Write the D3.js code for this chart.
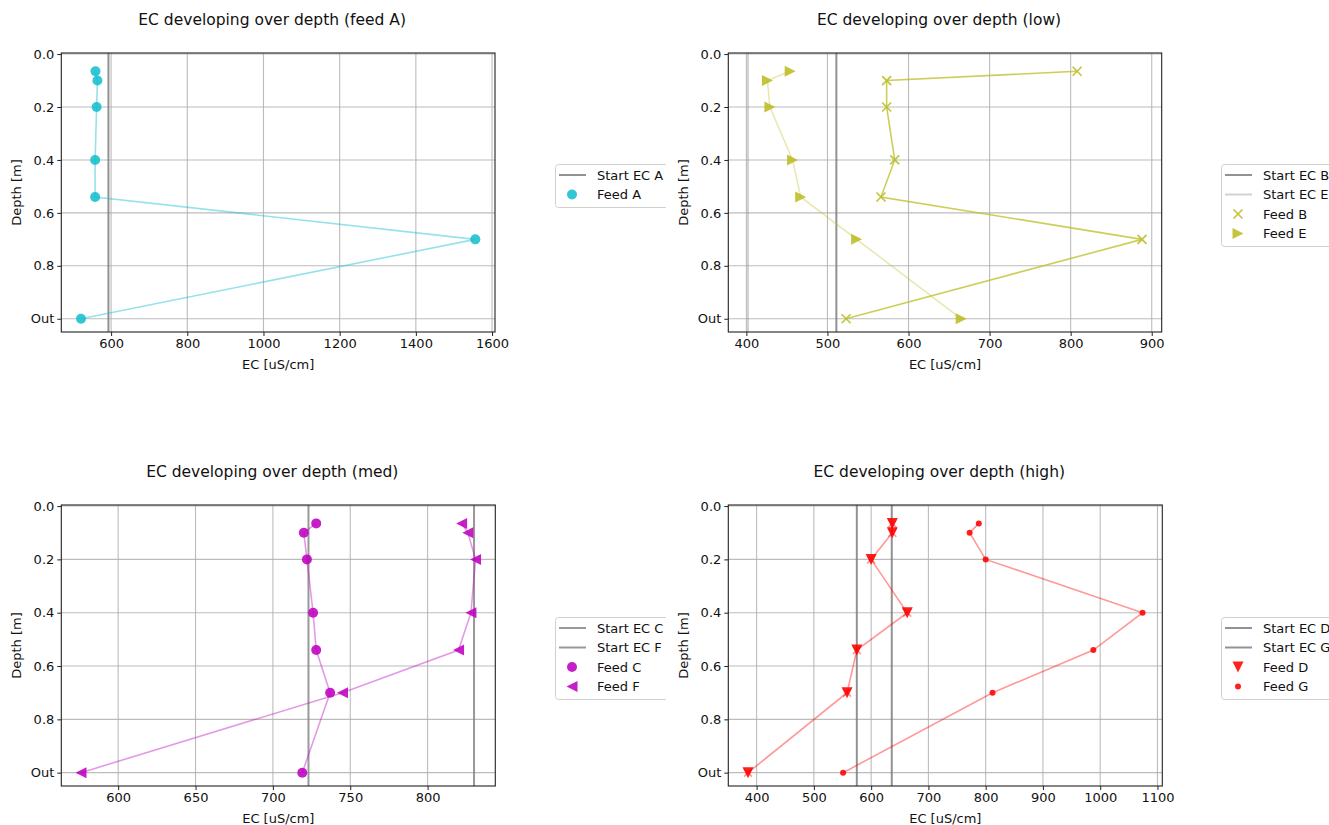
<!DOCTYPE html>
<html>
<head>
<meta charset="utf-8">
<script src="https://cdn.jsdelivr.net/npm/d3@7"></script>
<style>
  html, body { margin: 0; padding: 0; background: #fff; }
  svg { display: block; font-family: "DejaVu Sans", sans-serif; }
</style>
</head>
<body>
<svg id="fig" width="1329" height="825"></svg>
<script>
// Sampling depths (m); 1.0 stands for the outlet ("Out")
const depths = [0.065, 0.1, 0.2, 0.4, 0.54, 0.7, 1.0];
const depthTicks = [0, 0.2, 0.4, 0.6, 0.8, 1.0];
const depthTickLabels = ["0.0", "0.2", "0.4", "0.6", "0.8", "Out"];

// EC readings per feed (uS/cm), top to outlet
const feedA = [559, 564, 562, 558, 558, 1556, 521];
const feedB = [808, 573, 573, 583, 566, 888, 523];
const feedE = [454, 426, 429, 457, 467, 536, 665];
const feedC = [728, 720, 722, 726, 728, 737, 719];
const feedF = [822, 826, 831, 828, 820, 745, 576];
const feedD = [637, 637, 600, 663, 575, 558, 385];
const feedG = [788, 772, 800, 1074, 988, 812, 551];

// Starting EC of each feed (uS/cm)
const startA = 593;
const startB = 511, startE = 402;
const startC = 723, startF = 830;
const startD = 636, startG = 575;

// x tick values per panel
const ticksFeedA = [600, 800, 1000, 1200, 1400, 1600];
const ticksLow = [400, 500, 600, 700, 800, 900];
const ticksMed = [600, 650, 700, 750, 800];
const ticksHigh = [400, 500, 600, 700, 800, 900, 1000, 1100];

const svg = d3.select("#fig");
const FONT = 13;

const panels = [
  {
    title: "EC developing over depth (feed A)",
    box: { x0: 61.3, x1: 495, y0: 53, y1: 332 },
    xTicks: ticksFeedA,
    starts: [{ name: "Start EC A", value: startA, color: "#7f7f7f", opacity: 0.85 }],
    feeds: [{ name: "Feed A", values: feedA, color: "#17becf", marker: "circle", size: 5, lineOpacity: 0.45 }],
    legend: { x: 555, y: 164, clip: 666 }
  },
  {
    title: "EC developing over depth (low)",
    box: { x0: 728.3, x1: 1161.7, y0: 53, y1: 332 },
    xTicks: ticksLow,
    starts: [
      { name: "Start EC B", value: startB, color: "#7f7f7f", opacity: 0.85 },
      { name: "Start EC E", value: startE, color: "#7f7f7f", opacity: 0.35 }
    ],
    feeds: [
      { name: "Feed B", values: feedB, color: "#bcbd22", marker: "x", size: 4.5, lineOpacity: 0.75 },
      { name: "Feed E", values: feedE, color: "#bcbd22", marker: "tri-right", size: 5.5, lineOpacity: 0.35 }
    ],
    legend: { x: 1221, y: 164, clip: 1329 }
  },
  {
    title: "EC developing over depth (med)",
    box: { x0: 61.3, x1: 495.3, y0: 505, y1: 786 },
    xTicks: ticksMed,
    starts: [
      { name: "Start EC C", value: startC, color: "#7f7f7f", opacity: 0.8 },
      { name: "Start EC F", value: startF, color: "#7f7f7f", opacity: 0.8 }
    ],
    feeds: [
      { name: "Feed C", values: feedC, color: "#bf00bf", marker: "circle", size: 5, lineOpacity: 0.4 },
      { name: "Feed F", values: feedF, color: "#bf00bf", marker: "tri-left", size: 5.5, lineOpacity: 0.4 }
    ],
    legend: { x: 555, y: 617, clip: 666 }
  },
  {
    title: "EC developing over depth (high)",
    box: { x0: 728.3, x1: 1162.3, y0: 505, y1: 786 },
    xTicks: ticksHigh,
    starts: [
      { name: "Start EC D", value: startD, color: "#7f7f7f", opacity: 0.85 },
      { name: "Start EC G", value: startG, color: "#7f7f7f", opacity: 0.85 }
    ],
    feeds: [
      { name: "Feed D", values: feedD, color: "#ff0000", marker: "tri-down", size: 5.5, lineOpacity: 0.4, lineMarker: "x" },
      { name: "Feed G", values: feedG, color: "#ff0000", marker: "circle", size: 3, lineOpacity: 0.4 }
    ],
    legend: { x: 1221, y: 617, clip: 1329 }
  }
];

function markerPath(type, s) {
  switch (type) {
    case "tri-right": return `M${s},0L${-s},${-s}L${-s},${s}Z`;
    case "tri-left": return `M${-s},0L${s},${-s}L${s},${s}Z`;
    case "tri-down": return `M0,${s}L${-s},${-s}L${s},${-s}Z`;
    case "x": return `M${-s},${-s}L${s},${s}M${-s},${s}L${s},${-s}`;
  }
  return "";
}

function drawMarker(g, type, size, color, opacity) {
  if (type === "circle") {
    g.append("circle").attr("r", size).attr("fill", color).attr("fill-opacity", opacity);
  } else if (type === "x") {
    g.append("path").attr("d", markerPath("x", size))
      .attr("stroke", color).attr("stroke-width", 1.7).attr("fill", "none").attr("stroke-opacity", opacity);
  } else {
    g.append("path").attr("d", markerPath(type, size)).attr("fill", color).attr("fill-opacity", opacity);
  }
}

panels.forEach((p, pi) => {
  const b = p.box;
  const allX = p.feeds.flatMap(f => f.values).concat(p.starts.map(s => s.value));
  const [lo, hi] = d3.extent(allX);
  const pad = (hi - lo) * 0.05;
  const x = d3.scaleLinear().domain([lo - pad, hi + pad]).range([b.x0, b.x1]);
  const y = d3.scaleLinear().domain([-0.004, 1.05]).range([b.y0, b.y1]);

  const g = svg.append("g");
  const clipId = "clip" + pi;
  svg.append("clipPath").attr("id", clipId)
    .append("rect").attr("x", b.x0).attr("y", b.y0).attr("width", b.x1 - b.x0).attr("height", b.y1 - b.y0);

  const plot = g.append("g").attr("clip-path", `url(#${clipId})`);

  // grid
  plot.selectAll(".gx").data(p.xTicks).join("line")
    .attr("x1", d => x(d)).attr("x2", d => x(d)).attr("y1", b.y0).attr("y2", b.y1)
    .attr("stroke", "#b0b0b0").attr("stroke-width", 1.1).attr("stroke-opacity", 0.85);
  plot.selectAll(".gy").data(depthTicks).join("line")
    .attr("y1", d => y(d)).attr("y2", d => y(d)).attr("x1", b.x0).attr("x2", b.x1)
    .attr("stroke", "#b0b0b0").attr("stroke-width", 1.1).attr("stroke-opacity", 0.85);

  // starting EC reference lines
  p.starts.forEach(s => {
    plot.append("line")
      .attr("x1", x(s.value)).attr("x2", x(s.value)).attr("y1", b.y0).attr("y2", b.y1)
      .attr("stroke", s.color).attr("stroke-width", 2).attr("stroke-opacity", s.opacity);
  });

  // profiles
  const line = d3.line().x(d => x(d.v)).y(d => y(d.d));
  p.feeds.forEach(f => {
    const pts = f.values.map((v, i) => ({ v, d: depths[i] }));
    plot.append("path").datum(pts).attr("d", line)
      .attr("fill", "none").attr("stroke", f.color).attr("stroke-width", 1.6)
      .attr("stroke-opacity", f.lineOpacity);
    if (f.lineMarker) {
      pts.forEach(pt => {
        const mg = plot.append("g").attr("transform", `translate(${x(pt.v)},${y(pt.d)})`);
        drawMarker(mg, f.lineMarker, 4, f.color, f.lineOpacity);
      });
    }
  });
  p.feeds.forEach(f => {
    f.values.forEach((v, i) => {
      const mg = g.append("g").attr("transform", `translate(${x(v)},${y(depths[i])})`);
      drawMarker(mg, f.marker, f.size, f.color, 0.88);
    });
  });

  // frame
  g.append("rect").attr("x", b.x0).attr("y", b.y0).attr("width", b.x1 - b.x0).attr("height", b.y1 - b.y0)
    .attr("fill", "none").attr("stroke", "#222").attr("stroke-width", 1.1);

  // axes
  const xAxis = d3.axisBottom(x).tickValues(p.xTicks).tickSize(4).tickPadding(3).tickFormat(d3.format("d"));
  const ax = g.append("g").attr("transform", `translate(0,${b.y1})`).call(xAxis);
  ax.select(".domain").remove();
  const yAxis = d3.axisLeft(y).tickValues(depthTicks).tickSize(4).tickPadding(3)
    .tickFormat((d, i) => depthTickLabels[i]);
  const ay = g.append("g").attr("transform", `translate(${b.x0},0)`).call(yAxis);
  ay.select(".domain").remove();
  [ax, ay].forEach(a => {
    a.selectAll("text").attr("font-size", FONT).attr("font-family", "DejaVu Sans").attr("fill", "#111");
    a.selectAll("line").attr("stroke", "#222");
  });

  // labels
  g.append("text").attr("x", (b.x0 + b.x1) / 2).attr("y", b.y1 + 37)
    .attr("text-anchor", "middle").attr("font-size", FONT).attr("fill", "#111").text("EC [uS/cm]");
  g.append("text").attr("transform", `translate(${b.x0 - 40},${(b.y0 + b.y1) / 2}) rotate(-90)`)
    .attr("text-anchor", "middle").attr("font-size", FONT).attr("fill", "#111").text("Depth [m]");
  g.append("text").attr("x", (b.x0 + b.x1) / 2 - 6).attr("y", b.y0 - 28)
    .attr("text-anchor", "middle").attr("font-size", 15.5).attr("fill", "#111").text(p.title);

  // legend
  const L = p.legend;
  const lclip = "lclip" + pi;
  svg.append("clipPath").attr("id", lclip)
    .append("rect").attr("x", L.x - 5).attr("y", L.y - 5).attr("width", L.clip - L.x + 5).attr("height", 120);
  const lg = svg.append("g").attr("clip-path", `url(#${lclip})`);
  const entries = p.starts.map(s => ({ kind: "line", s }))
    .concat(p.feeds.map(f => ({ kind: "marker", f })));
  const rowH = 19.5;
  const boxH = entries.length * rowH + 4;
  lg.append("rect").attr("x", L.x + 0.5).attr("y", L.y + 0.5).attr("width", 125).attr("height", boxH)
    .attr("rx", 3).attr("fill", "#fff").attr("fill-opacity", 0.85).attr("stroke", "#d0d0d0");
  entries.forEach((e, i) => {
    const cy = L.y + 11 + i * rowH;
    if (e.kind === "line") {
      lg.append("line").attr("x1", L.x + 4).attr("x2", L.x + 31).attr("y1", cy).attr("y2", cy)
        .attr("stroke", e.s.color).attr("stroke-width", 2).attr("stroke-opacity", e.s.opacity);
    } else {
      const mg = lg.append("g").attr("transform", `translate(${L.x + 17},${cy})`);
      drawMarker(mg, e.f.marker, e.f.size, e.f.color, 0.88);
    }
    lg.append("text").attr("x", L.x + 42).attr("y", cy).attr("dy", "0.35em")
      .attr("font-size", FONT).attr("fill", "#111").text(e.kind === "line" ? e.s.name : e.f.name);
  });
});
</script>
</body>
</html>
